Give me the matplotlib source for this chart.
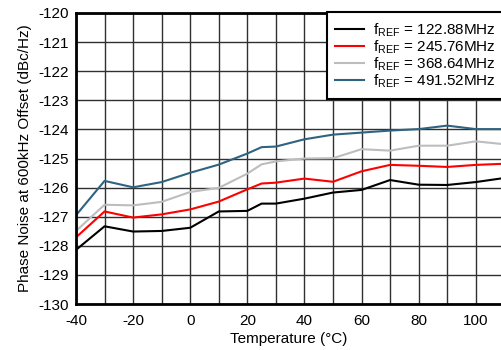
import matplotlib.pyplot as plt
from matplotlib.patches import Rectangle
from matplotlib.ticker import MultipleLocator

plt.rcParams['font.family'] = ['Liberation Sans', 'DejaVu Sans']
plt.rcParams['mathtext.fontset'] = 'custom'
plt.rcParams['mathtext.rm'] = 'Liberation Sans'
plt.rcParams['axes.unicode_minus'] = False

temp = [-40, -30, -20, -10, 0, 10, 20, 25, 30, 40, 50, 60, 70, 80, 90, 100, 110]

pn_122 = [-128.14, -127.33, -127.51, -127.49, -127.38, -126.82, -126.80, -126.55, -126.55,
          -126.38, -126.17, -126.08, -125.74, -125.90, -125.91, -125.81, -125.67]
pn_245 = [-127.71, -126.82, -127.03, -126.92, -126.75, -126.48, -126.06, -125.86, -125.83,
          -125.69, -125.80, -125.44, -125.22, -125.25, -125.29, -125.22, -125.18]
pn_368 = [-127.49, -126.59, -126.61, -126.49, -126.15, -126.01, -125.52, -125.20, -125.10,
          -125.00, -124.99, -124.68, -124.73, -124.56, -124.56, -124.41, -124.51]
pn_491 = [-126.95, -125.77, -125.99, -125.81, -125.49, -125.21, -124.83, -124.61, -124.59,
          -124.34, -124.18, -124.11, -124.04, -123.99, -123.87, -123.99, -123.99]

labels = [r'f$_{\mathrm{REF}}$ = 122.88MHz', r'f$_{\mathrm{REF}}$ = 245.76MHz',
          r'f$_{\mathrm{REF}}$ = 368.64MHz', r'f$_{\mathrm{REF}}$ = 491.52MHz']
colors = ['black', '#ff0000', '#bdbdbd', '#2e6480']

fig = plt.figure(figsize=(5.02, 3.5), dpi=100)
ax = fig.add_axes([76 / 502, 46 / 350, 1 - 76 / 502, 291 / 350])

for y, lab, c in zip([pn_122, pn_245, pn_368, pn_491], labels, colors):
    ax.plot(temp, y, color=c, lw=1.5, label=lab)

ax.set_xlim(-40, 109.2)
ax.set_ylim(-130, -120)
ax.xaxis.set_major_locator(MultipleLocator(20))
ax.xaxis.set_minor_locator(MultipleLocator(10))
ax.yaxis.set_major_locator(MultipleLocator(1))
ax.grid(which='both', color='#303030', lw=1)
ax.set_axisbelow(True)
ax.tick_params(which='both', length=0, labelsize=11, pad=5)
ax.tick_params(axis='x', pad=7)

for s in ['left', 'bottom', 'top']:
    ax.spines[s].set_linewidth(2)
ax.spines['right'].set_visible(False)

ax.set_xlabel('Temperature (°C)', fontsize=11, labelpad=3)
ax.set_ylabel('Phase Noise at 600kHz Offset (dBc/Hz)', fontsize=11, labelpad=5)

# legend box runs past the right edge of the picture (cropped like the original)
ax.add_patch(Rectangle((0.589, 0.7045), 0.5, 0.3, transform=ax.transAxes,
                       facecolor='white', edgecolor='black', lw=1.5,
                       clip_on=False, zorder=4))
leg = ax.legend(loc='upper left', bbox_to_anchor=(0.589, 1.0), fontsize=11,
                frameon=False, borderaxespad=0, handlelength=1.9,
                handletextpad=0.55, labelspacing=-0.05, borderpad=0.55)
leg.set_zorder(5)

fig.savefig('out.png', dpi=100)
